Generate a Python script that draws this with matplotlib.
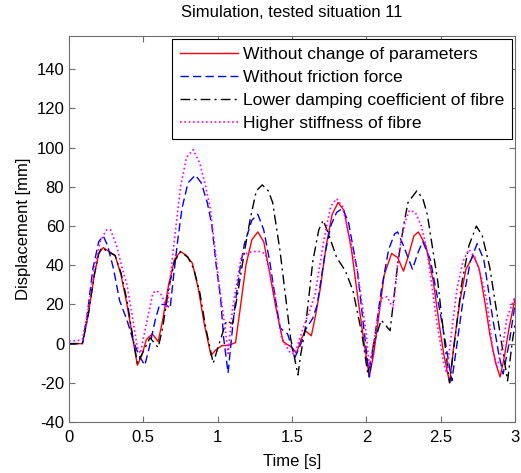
import matplotlib
matplotlib.use('Agg')
import matplotlib.pyplot as plt

plt.rcParams['font.family'] = ['Liberation Sans', 'DejaVu Sans']
plt.rcParams['axes.unicode_minus'] = False

# Without change of parameters
t_red = [0, 0.09, 0.13, 0.17, 0.20, 0.23, 0.27, 0.31, 0.35, 0.39, 0.43, 0.46, 0.49, 0.52, 0.56,
         0.60, 0.63, 0.67, 0.71, 0.75, 0.79, 0.83, 0.87, 0.91, 0.955, 0.99, 1.03, 1.07, 1.12, 1.15,
         1.19, 1.23, 1.27, 1.31, 1.35, 1.39, 1.44, 1.50, 1.53, 1.56, 1.59, 1.63, 1.66, 1.69, 1.73,
         1.77, 1.81, 1.85, 1.90, 1.94, 1.98, 2.02, 2.05, 2.08, 2.12, 2.17, 2.21, 2.25, 2.28, 2.32,
         2.35, 2.40, 2.45, 2.49, 2.52, 2.56, 2.59, 2.63, 2.67, 2.72, 2.76, 2.80, 2.83, 2.87, 2.90,
         2.93, 2.96, 3.0]
y_red = [0, 0, 15, 35, 46, 49, 47, 45, 35, 20, 2, -11, -6, 2, 5,
         1, 12, 30, 43, 47, 45, 41, 28, 10, -6, -3, -1, -1, 0.5, 17,
         40, 53, 57, 52, 36, 19, 1, -2, -5, 2, 6.6, 4, 15, 28, 50,
         66, 72, 68, 48, 25, 3, -17, -5, 12, 35, 46, 44, 37, 44, 55,
         57, 50, 32, 10, -5, -20, 0, 22, 38, 45, 38, 20, 5, -10, -17,
         -6, 8, 23]

# Without friction force
t_blue = [0, 0.09, 0.12, 0.16, 0.20, 0.23, 0.26, 0.30, 0.34, 0.39, 0.43, 0.47, 0.51, 0.54, 0.58,
          0.61, 0.65, 0.68, 0.70, 0.73, 0.76, 0.80, 0.85, 0.89, 0.93, 0.96, 0.99, 1.02, 1.04, 1.07,
          1.10, 1.12, 1.15, 1.18, 1.23, 1.27, 1.31, 1.35, 1.39, 1.42, 1.47, 1.52, 1.56, 1.59, 1.64,
          1.67, 1.72, 1.76, 1.80, 1.84, 1.88, 1.94, 1.98, 2.02, 2.06, 2.10, 2.15, 2.19, 2.21, 2.25,
          2.31, 2.35, 2.38, 2.43, 2.47, 2.53, 2.575, 2.61, 2.65, 2.70, 2.745, 2.79, 2.85, 2.89, 2.92,
          2.96, 3.0]
y_blue = [0, 0, 13, 38, 52, 55, 50, 38, 22, 12, 2, -6, -11, -2, 12,
          20, 20, 18, 32, 52, 69, 82, 86, 82, 72, 61, 40, 23, 3, -15,
          8, 22, 38, 51, 63, 66, 58, 42, 22, 8, 5, -7, 0, 7, 13,
          20, 45, 60, 67, 69, 62, 37, 10, -17, 5, 27, 48, 56, 57, 50,
          38, 47, 52, 43, 27, 1.5, -19, 0, 22, 42, 51, 43, 13, -5, -15.5,
          0, 20]

# Lower damping coefficient of fibre
t_black = [0, 0.09, 0.13, 0.17, 0.20, 0.22, 0.26, 0.31, 0.35, 0.39, 0.43, 0.46, 0.50, 0.545, 0.60,
           0.63, 0.67, 0.71, 0.75, 0.80, 0.84, 0.88, 0.92, 0.97, 1.01, 1.06, 1.10, 1.14, 1.18, 1.22,
           1.26, 1.30, 1.34, 1.37, 1.42, 1.46, 1.49, 1.54, 1.56, 1.59, 1.64, 1.68, 1.71, 1.75, 1.80,
           1.86, 1.91, 1.97, 2.01, 2.05, 2.10, 2.16, 2.21, 2.25, 2.28, 2.34, 2.38, 2.41, 2.48, 2.52,
           2.56, 2.60, 2.64, 2.69, 2.74, 2.78, 2.83, 2.90, 2.95, 2.98, 3.0]
y_black = [0, 0, 15, 35, 46, 49, 47, 45, 36, 22, 3, -10, -4, 3, -2,
           8, 28, 42, 47, 44, 38, 26, 8, -10, 0, 11.7, 10, 28, 47, 64,
           78, 81, 78, 72, 47, 22, 3, -16, -5, 8, 42, 58, 63, 55, 44,
           37, 27, 5, -15.5, 0, 12, 6.6, 40, 60, 72, 78, 74, 66, 32, 5,
           -20, 5, 30, 50, 60, 55, 39, 5, -19, 0, 10]

# Higher stiffness of fibre
t_mag = [0, 0.05, 0.09, 0.13, 0.17, 0.21, 0.25, 0.28, 0.32, 0.36, 0.39, 0.43, 0.46, 0.48, 0.52,
         0.565, 0.59, 0.62, 0.66, 0.70, 0.75, 0.79, 0.835, 0.88, 0.92, 0.95, 0.98, 1.01, 1.05, 1.07,
         1.10, 1.16, 1.23, 1.28, 1.32, 1.385, 1.43, 1.49, 1.52, 1.575, 1.62, 1.655, 1.71, 1.76, 1.80,
         1.84, 1.94, 2.0, 2.02, 2.06, 2.10, 2.14, 2.18, 2.22, 2.26, 2.29, 2.33, 2.37, 2.41, 2.47,
         2.52, 2.54, 2.58, 2.61, 2.65, 2.69, 2.73, 2.77, 2.81, 2.85, 2.88, 2.92, 2.945, 3.0]
y_mag = [1.5, 1.5, 2, 18, 38, 52, 58, 58, 50, 38, 30, 12, -2, -5, 10,
         26, 27, 25, 18, 47, 80, 95, 99, 92, 80, 69, 50, 30, 8, -5,
         18, 45, 47, 47, 46, 25, 3, -5, -5, 8, 17, 25, 51, 70, 74,
         70, 37, 5, -12, 5, 23, 24, 18, 47, 62, 68, 67, 60, 47, 13,
         -10, -15, 10, 28, 42, 48, 44, 35, 22, -3, -12, 0, 13, 24]

labels = ['Without change of parameters', 'Without friction force',
          'Lower damping coefficient of fibre', 'Higher stiffness of fibre']

fig = plt.figure(figsize=(5.21, 4.73), dpi=100)
ax = fig.add_axes([69 / 521, 51 / 473, 446 / 521, 386 / 473])

ax.plot(t_red, y_red, color='red', lw=1.0, label=labels[0])
ax.plot(t_blue, y_blue, color='blue', lw=1.0, ls=(0, (6, 3)), label=labels[1])
ax.plot(t_black, y_black, color='black', lw=1.0, ls=(0, (7, 3, 1.5, 3)), label=labels[2])
ax.plot(t_mag, y_mag, color='magenta', lw=1.2, ls=(0, (1, 1.6)), label=labels[3])

ax.set_xlim(0, 3)
ax.set_ylim(-40, 157)
ax.set_xticks([0, 0.5, 1, 1.5, 2, 2.5, 3])
ax.set_xticklabels(['0', '0.5', '1', '1.5', '2', '2.5', '3'])
ax.set_yticks(range(-40, 141, 20))
ax.tick_params(direction='in', top=True, right=True, length=4, labelsize=12, color='#6e6e6e')
ax.tick_params(axis='x', pad=6)
for s in ax.spines.values():
    s.set_color('#6e6e6e')

ax.set_xlabel('Time [s]', fontsize=12, labelpad=6)
ax.set_ylabel('Displacement [mm]', fontsize=12, labelpad=4)
ax.set_title('Simulation, tested situation 11', fontsize=12, pad=14)

leg = ax.legend(loc='upper right', fontsize=12.6, handlelength=3.3, handletextpad=0.3,
                labelspacing=0.45, borderpad=0.45, borderaxespad=0.15, fancybox=False,
                framealpha=1)
leg.get_frame().set_edgecolor('black')
leg.get_frame().set_linewidth(0.8)

fig.savefig('out.png', dpi=100)
